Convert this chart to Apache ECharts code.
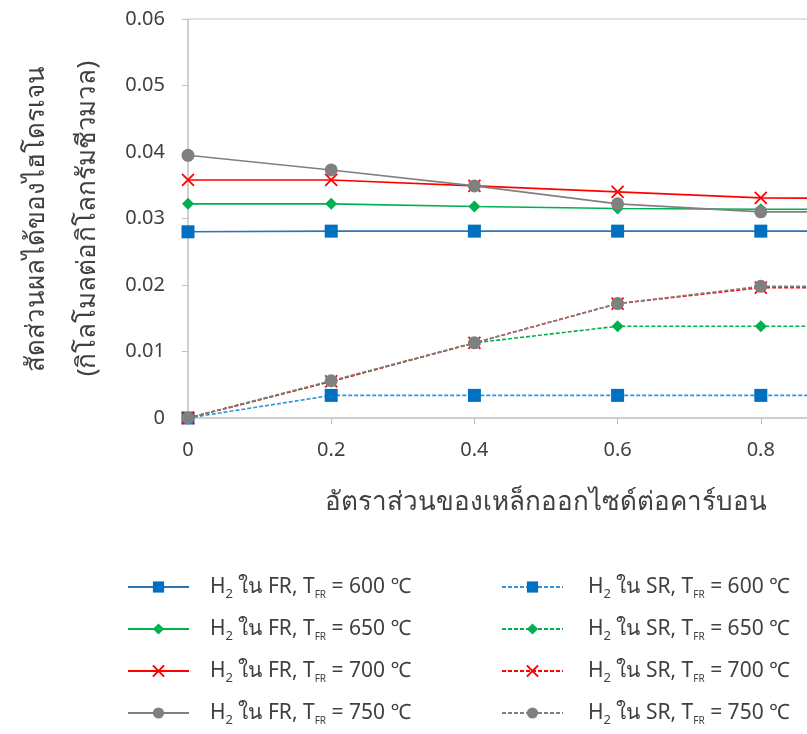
<!DOCTYPE html>
<html>
<head>
<meta charset="utf-8">
<script src="https://cdn.jsdelivr.net/npm/echarts@6/dist/echarts.min.js"></script>
<style>
html,body{margin:0;padding:0;background:#fff;}
#c{width:807px;height:734px;}
</style>
</head>
<body>
<div id="c"></div>
<script>
// ---- data ----
const xValues = [0, 0.2, 0.4, 0.6, 0.8, 1.0];
const xTickLabels = ['0', '0.2', '0.4', '0.6', '0.8', '1'];
const yTickLabels = ['0', '0.01', '0.02', '0.03', '0.04', '0.05', '0.06'];
const temps = ['600', '650', '700', '750'];

const fr600 = [0.0280, 0.0281, 0.0281, 0.0281, 0.0281, 0.0281];
const fr650 = [0.0322, 0.0322, 0.0318, 0.0315, 0.0314, 0.0314];
const fr700 = [0.0358, 0.0358, 0.0349, 0.0340, 0.0331, 0.0330];
const fr750 = [0.0395, 0.0373, 0.0349, 0.0322, 0.0310, 0.0310];

const sr600 = [0, 0.0034, 0.0034, 0.0034, 0.0034, 0.0034];
const sr650 = [0, 0.0055, 0.0113, 0.0138, 0.0138, 0.0138];
const sr700 = [0, 0.0055, 0.0113, 0.0172, 0.0196, 0.0196];
const sr750 = [0, 0.0056, 0.0113, 0.0172, 0.0198, 0.0198];

const yTitle1 = 'สัดส่วนผลได้ของไฮโดรเจน';
const yTitle2 = '(กิโลโมลต่อกิโลกรัมชีวมวล)';
const xTitle = 'อัตราส่วนของเหล็กออกไซด์ต่อคาร์บอน';

// ---- styles ----
const FONT = 'Tahoma, "Noto Sans", "DejaVu Sans", sans-serif';
const colors = ['#0070C0', '#00B050', '#FF0000', '#808080'];
const lineColorsFR = ['#2E75B6', '#00B050', '#FF0000', '#808080'];
const lineColorsSR = ['#2E95DA', '#00B050', '#FF0000', '#808080'];
const crossPath = 'path://M0,0L10,10M10,0L0,10';
const symbols = ['rect', 'diamond', crossPath, 'circle'];
const symSizes = [13, 12, 12, 13];

function pairs(arr) { return xValues.map((x, i) => [x, arr[i]]); }

const frData = [fr600, fr650, fr700, fr750];
const srData = [sr600, sr650, sr700, sr750];
const frNames = temps.map(t => 'H2 ใน FR, TFR = ' + t + ' ℃');
const srNames = temps.map(t => 'H2 ใน SR, TFR = ' + t + ' ℃');

function mkSeries(name, data, i, dashed) {
  const isCross = i === 2;
  return {
    name: name,
    type: 'line',
    data: pairs(data),
    symbol: symbols[i],
    symbolSize: isCross ? 12 : symSizes[i],
    showSymbol: true,
    lineStyle: {
      color: dashed ? lineColorsSR[i] : lineColorsFR[i],
      width: 1.6,
      type: dashed ? [4, 2] : 'solid'
    },
    itemStyle: {
      color: isCross ? 'rgba(0,0,0,0)' : colors[i],
      borderColor: colors[i],
      borderWidth: isCross ? 1.8 : 0
    },
    emphasis: { disabled: true },
    animation: false,
    z: dashed ? 3 : 2
  };
}

const series = [];
frNames.forEach((n, i) => series.push(mkSeries(n, frData[i], i, false)));
srNames.forEach((n, i) => series.push(mkSeries(n, srData[i], i, true)));

function legendFmt(name) {
  const m = name.match(/H2 ใน (FR|SR), TFR = (\d+) ℃/);
  return '{p|}{n|H}{s|2}{n| ใน ' + m[1] + ', T}{t|FR}{n| = ' + m[2] + ' ℃}';
}
function richFor(pad) {
  return {
    p: { width: pad, height: 26 },
    n: { fontSize: 21, color: '#404040', fontFamily: FONT, lineHeight: 26 },
    s: { fontSize: 13, color: '#404040', fontFamily: FONT, padding: [15, 0, 0, 0], lineHeight: 11 },
    t: { fontSize: 10, color: '#404040', fontFamily: FONT, padding: [16, 0, 0, 0], lineHeight: 10 }
  };
}

const chart = echarts.init(document.getElementById('c'), null, { renderer: 'canvas' });
chart.setOption({
  backgroundColor: '#ffffff',
  animation: false,
  textStyle: { fontFamily: FONT },
  grid: { left: 188, top: 19, width: 716, height: 399, containLabel: false, outerBoundsMode: 'none' },
  xAxis: [{
    type: 'value', min: 0, max: 1, interval: 0.2,
    name: xTitle, nameLocation: 'middle', nameGap: 72,
    nameTextStyle: { fontSize: 26, color: '#404040', fontFamily: FONT },
    axisLine: { show: true, lineStyle: { color: '#BFBFBF', width: 1.5 } },
    axisTick: { show: true, inside: false, length: 6, lineStyle: { color: '#BFBFBF' } },
    axisLabel: { fontSize: 20, color: '#404040', margin: 22, fontFamily: FONT,
      formatter: v => xTickLabels[Math.round(v / 0.2)] },
    splitLine: { show: false }
  }, {
    type: 'value', min: 0, max: 1, position: 'top',
    axisLine: { show: true, lineStyle: { color: '#D9D9D9', width: 1.5 } },
    axisTick: { show: false }, axisLabel: { show: false }, splitLine: { show: false }
  }],
  yAxis: {
    type: 'value', min: 0, max: 0.06, interval: 0.01,
    name: yTitle1 + '\n' + yTitle2, nameLocation: 'middle', nameGap: 75, nameRotate: 90,
    nameTextStyle: { fontSize: 26, color: '#404040', fontFamily: FONT, lineHeight: 51 },
    axisLine: { show: true, lineStyle: { color: '#BFBFBF', width: 1.5 } },
    axisTick: { show: true, inside: false, length: 6, lineStyle: { color: '#BFBFBF' } },
    axisLabel: { fontSize: 20, color: '#404040', margin: 23, fontFamily: FONT,
      formatter: v => yTickLabels[Math.round(v / 0.01)] },
    splitLine: { show: false }
  },
  legend: [{
    data: frNames, orient: 'vertical', left: 127, top: 573, height: 160, padding: 0,
    itemWidth: 61, itemHeight: 14, itemGap: 14,
    formatter: legendFmt,
    textStyle: { rich: richFor(16) },
    selectedMode: false
  }, {
    data: srNames, orient: 'vertical', left: 501, top: 573, height: 160, padding: 0,
    itemWidth: 61, itemHeight: 14, itemGap: 14,
    formatter: legendFmt,
    textStyle: { rich: richFor(20) },
    selectedMode: false
  }],
  series: series
});
</script>
</body>
</html>
